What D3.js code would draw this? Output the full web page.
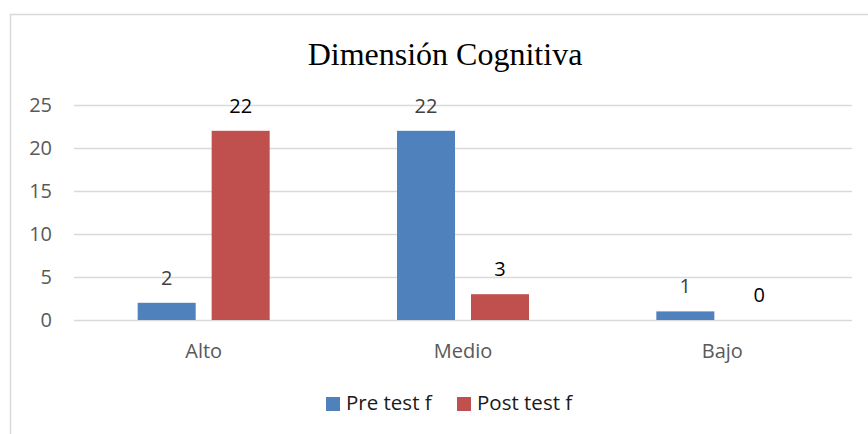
<!DOCTYPE html>
<html>
<head>
<meta charset="utf-8">
<title>Dimensión Cognitiva</title>
<script src="https://d3js.org/d3.v7.min.js"></script>
<style>
  body { margin: 0; background: #fff; }
</style>
</head>
<body>
<div id="chart"></div>
<script>
// data
var categories = ["Alto", "Medio", "Bajo"];
var seriesNames = ["Pre test f", "Post test f"];
var preTest = [2, 22, 1];
var postTest = [22, 3, 0];
var yTicks = [0, 5, 10, 15, 20, 25];

var colors = ["#4F81BD", "#C0504D"];
var labelColors = ["#404040", "#000000"];

var W = 868, H = 434;
var margin = { top: 105, right: 16, bottom: 114, left: 74 };

var svg = d3.select("#chart")
    .append("svg")
    .attr("width", W)
    .attr("height", H);

// outer chart border (runs off the right / bottom of the picture)
svg.append("rect")
    .attr("x", 10.5)
    .attr("y", 14.5)
    .attr("width", 900)
    .attr("height", 460)
    .attr("fill", "none")
    .attr("stroke", "#D9D9D9")
    .attr("stroke-width", 1.5);

var x0 = d3.scaleBand()
    .domain(categories)
    .range([margin.left, W - margin.right]);

var x1 = d3.scaleBand()
    .domain(seriesNames)
    .range([0, 132])
    .paddingInner(0.216);

var y = d3.scaleLinear()
    .domain([0, 25])
    .range([H - margin.bottom, margin.top]);

// gridlines
svg.append("g")
    .selectAll("line")
    .data(yTicks)
    .enter()
    .append("line")
    .attr("x1", margin.left)
    .attr("x2", W - margin.right)
    .attr("y1", function (d) { return Math.round(y(d)) + 0.5; })
    .attr("y2", function (d) { return Math.round(y(d)) + 0.5; })
    .attr("stroke", "#D9D9D9")
    .attr("stroke-width", 1.5);

// y tick labels
svg.append("g")
    .selectAll("text")
    .data(yTicks)
    .enter()
    .append("text")
    .attr("x", 52)
    .attr("y", function (d) { return y(d); })
    .attr("dy", "0.35em")
    .attr("text-anchor", "end")
    .style("font-family", "'Open Sans', sans-serif")
    .style("font-size", "20px")
    .style("fill", "#595959")
    .text(function (d) { return d; });

// category labels
svg.append("g")
    .selectAll("text")
    .data(categories)
    .enter()
    .append("text")
    .attr("x", function (d) { return x0(d) + x0.bandwidth() / 2; })
    .attr("y", 358)
    .attr("text-anchor", "middle")
    .style("font-family", "'Open Sans', sans-serif")
    .style("font-size", "20px")
    .style("fill", "#595959")
    .text(function (d) { return d; });

var series = [preTest, postTest];

// bars + value labels
series.forEach(function (vals, s) {
    var name = seriesNames[s];
    var g = svg.append("g");
    g.selectAll("rect")
        .data(categories)
        .enter()
        .append("rect")
        .attr("x", function (d) { return x0(d) + (x0.bandwidth() - 132) / 2 + x1(name); })
        .attr("y", function (d, i) { return y(vals[i]); })
        .attr("width", x1.bandwidth())
        .attr("height", function (d, i) { return y(0) - y(vals[i]); })
        .attr("fill", colors[s]);

    g.selectAll("text")
        .data(categories)
        .enter()
        .append("text")
        .attr("x", function (d) { return x0(d) + (x0.bandwidth() - 132) / 2 + x1(name) + x1.bandwidth() / 2; })
        .attr("y", function (d, i) { return y(vals[i]) - 25; })
        .attr("dy", "0.35em")
        .attr("text-anchor", "middle")
        .style("font-family", "'Open Sans', sans-serif")
        .style("font-size", "20px")
        .style("fill", labelColors[s])
        .text(function (d, i) { return vals[i]; });
});

// title
svg.append("text")
    .attr("x", 445)
    .attr("y", 65)
    .attr("text-anchor", "middle")
    .style("font-family", "'Liberation Serif', 'Times New Roman', serif")
    .style("font-size", "32px")
    .style("fill", "#000")
    .text("Dimensión Cognitiva");

// legend
var legendX = [326, 457];
var legend = svg.append("g");
seriesNames.forEach(function (name, s) {
    legend.append("rect")
        .attr("x", legendX[s])
        .attr("y", 397)
        .attr("width", 14)
        .attr("height", 14)
        .attr("fill", colors[s]);
    legend.append("text")
        .attr("x", legendX[s] + 20)
        .attr("y", 410)
        .style("font-family", "'Open Sans', sans-serif")
        .style("font-size", "20.5px")
        .style("fill", "#1a1a1a")
        .text(name);
});
</script>
</body>
</html>
